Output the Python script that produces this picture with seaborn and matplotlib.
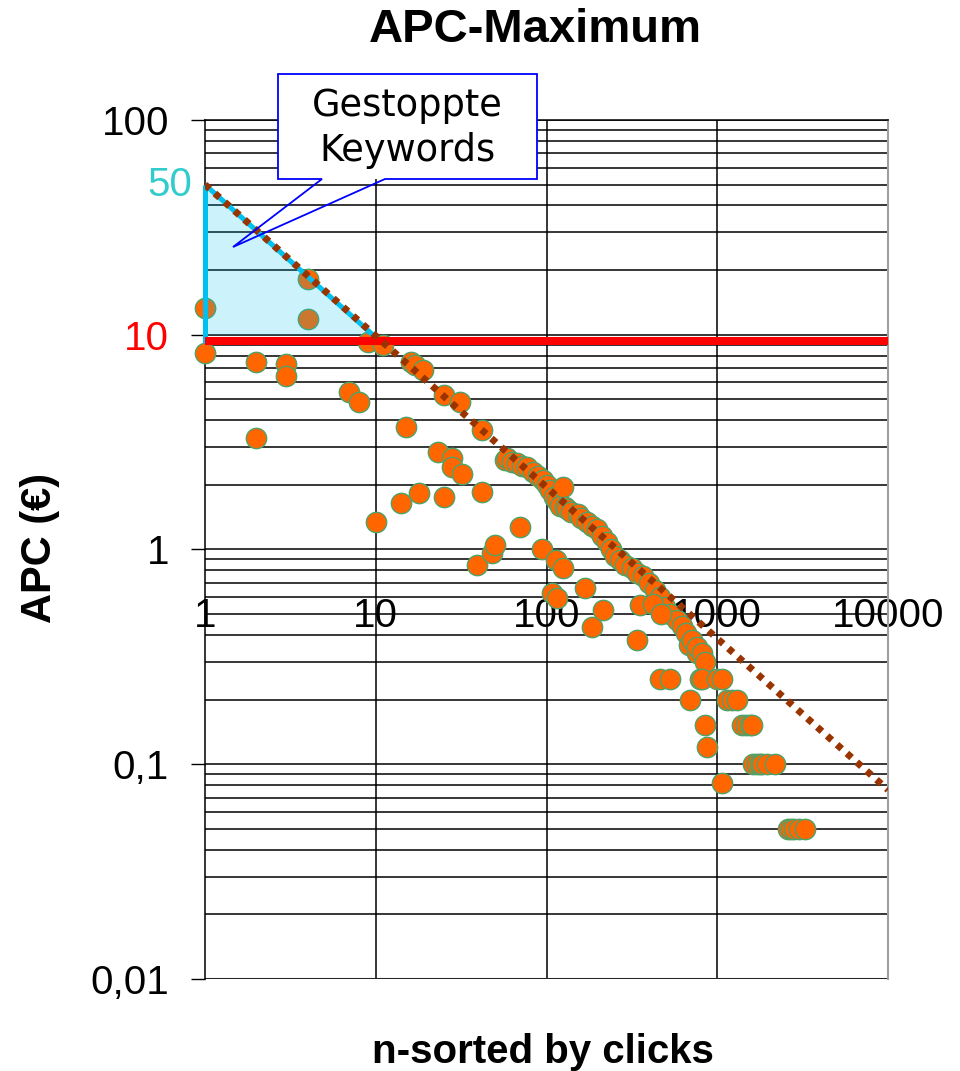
import numpy as np
import pandas as pd
import seaborn as sns
import matplotlib.pyplot as plt
from matplotlib.patches import Polygon, Rectangle
from matplotlib.ticker import FixedLocator, NullFormatter

# rank n (sorted by clicks) and APC in euro
n_rank = [1, 1, 2, 2, 3, 3, 4, 4, 7, 8, 9, 10, 11, 14, 15, 16, 17, 18, 19,
          23, 25, 25, 28, 28, 31, 32, 39, 42, 42, 48, 50,
          57, 59, 63, 67, 72, 77, 83, 89, 95, 100, 105, 110, 115, 120, 125,
          128, 132, 140, 153, 160, 172, 185, 197, 210, 225, 240, 252, 268,
          290, 317, 340, 368, 400, 433, 460, 495, 530, 580, 620, 660, 680,
          710, 760, 765, 810, 850,
          70, 94, 108, 114, 115, 125, 168, 185, 214, 339, 352, 420, 470,
          462, 530, 690, 790, 811, 850, 870, 1000, 1062, 1070, 1140, 1220,
          1300, 1400, 1480, 1550, 1600, 1620, 1700, 1780, 1840, 1950, 2170,
          2600, 2700, 2800, 3000, 3250]
apc = [13.3, 8.2, 7.45, 3.3, 7.3, 6.45, 18.2, 11.8, 5.4, 4.85, 9.25, 1.34,
       8.95, 1.65, 3.7, 7.45, 7.2, 1.83, 6.85,
       2.84, 1.76, 5.24, 2.67, 2.42, 4.87, 2.25, 0.85, 3.6, 1.85, 0.96, 1.05,
       2.6, 2.67, 2.55, 2.52, 2.45, 2.42, 2.3, 2.21, 2.1, 2.0, 1.9, 1.75,
       1.68, 1.6, 1.96, 1.58, 1.54, 1.5, 1.46, 1.4, 1.35, 1.28, 1.24, 1.15,
       1.08, 1.0, 0.93, 0.89, 0.85, 0.82, 0.78, 0.75, 0.7, 0.65, 0.6, 0.54,
       0.5, 0.47, 0.44, 0.41, 0.36, 0.38, 0.33, 0.35, 0.33, 0.30,
       1.27, 1.0, 0.63, 0.89, 0.595, 0.82, 0.66, 0.435, 0.52, 0.38, 0.55,
       0.56, 0.5, 0.25, 0.25, 0.20, 0.25, 0.25, 0.152, 0.12, 0.25, 0.25,
       0.082, 0.20, 0.20, 0.20, 0.152, 0.152, 0.152, 0.152, 0.1, 0.1, 0.1,
       0.1, 0.1, 0.1, 0.05, 0.05, 0.05, 0.05, 0.05]

# power trend (dotted) endpoints
trend_x = [1, 10000]
trend_y = [50, 0.076]

# stopped keyword zone
limit_apc = 9.4
zone_x = [1, 1, 9.6]
zone_y = [50, 10, 10]

x_ticks = [1, 10, 100, 1000, 10000]
x_labels = ['1', '10', '100', '1000', '10000']
y_ticks = [0.01, 0.1, 1, 10, 100]
y_labels = ['0,01', '0,1', '1', '10', '100']

df = pd.DataFrame({'n': n_rank, 'apc': apc})

sns.set_style('white')
plt.rcParams['font.family'] = ['Liberation Sans', 'DejaVu Sans']
plt.rcParams['text.color'] = 'black'
plt.rcParams['xtick.color'] = 'black'
plt.rcParams['ytick.color'] = 'black'

W, H = 960, 1071
fig = plt.figure(figsize=(9.6, 10.71), dpi=100)
ax = fig.add_axes([205 / W, 1 - 979 / H, 683 / W, 859 / H])
ax.set_xscale('log')
ax.set_yscale('log')
ax.set_xlim(1, 10000)
ax.set_ylim(0.01, 100)

# grid
ax.yaxis.set_minor_locator(FixedLocator(
    [m * 10.0 ** e for e in range(-2, 2) for m in range(2, 10)]))
ax.yaxis.set_minor_formatter(NullFormatter())
ax.grid(True, axis='y', which='both', color='black', lw=1.1, zorder=0)
for gx in x_ticks[1:-1]:
    ax.axvline(gx, color='black', lw=1.1, zorder=0)
ax.axhline(0.01, color='#a0a0a0', lw=1.5, zorder=0)
ax.xaxis.grid(False)

sns.scatterplot(data=df, x='n', y='apc', ax=ax, s=215, color='#ff6600',
                edgecolor='#4ea26a', linewidth=1.0, legend=False,
                clip_on=False, zorder=3)

# shaded zone, red limit, trend
ax.fill(zone_x, zone_y, color=(0, 0.745, 0.94), alpha=0.2, lw=0, zorder=4)
ax.plot([zone_x[0], zone_x[2]], [zone_y[0], zone_y[2]], color='#00c0f0',
        lw=3.6, zorder=5, solid_capstyle='butt')
ax.plot([1, 1], [50, 9.2], color='#00c0f0', lw=3.6, zorder=5, clip_on=False,
        solid_capstyle='butt')
ax.axhline(limit_apc, xmin=0, xmax=1, color='#ff0000', lw=5.8, zorder=5)
sns.lineplot(x=trend_x, y=trend_y, ax=ax, color='#993300', lw=5,
             dashes=False, zorder=6)
ax.lines[-1].set_dashes((0.9, 1.0))

# spines / ticks
for side in ['left', 'top']:
    ax.spines[side].set_color('black')
    ax.spines[side].set_linewidth(1.1)
ax.spines['right'].set_color('#a0a0a0')
ax.spines['right'].set_linewidth(1.5)
ax.spines['bottom'].set_position(('data', 1))
ax.spines['bottom'].set_visible(False)

ax.set_xticks(x_ticks)
ax.set_xticklabels(x_labels)
ax.xaxis.set_minor_locator(FixedLocator([]))
ax.tick_params(axis='x', which='both', length=0, pad=34, labelsize=29)
ax.set_yticks(y_ticks)
ax.set_yticklabels(y_labels)
ax.tick_params(axis='y', which='major', left=True, length=10, width=1,
               color='black', pad=16, labelsize=29)
ax.tick_params(axis='y', which='minor', length=0)
ax.get_yticklabels()[3].set_color('#ff0000')
ax.text(-0.018, 50, '50', transform=ax.get_yaxis_transform(), ha='right',
        va='center', fontsize=29, color='#33cccc')
ax.set_xlabel('')
ax.set_ylabel('')

# callout
box = Rectangle((278 / W, 1 - 179 / H), 259 / W, 105 / H,
                transform=fig.transFigure, facecolor='white', lw=0,
                zorder=10)
fig.patches.append(box)
pts = [(278, 74), (537, 74), (537, 179), (385, 179), (233, 247), (322, 179),
       (278, 179)]
outline = Polygon([(px / W, 1 - py / H) for px, py in pts], closed=True,
                  fill=False, edgecolor='#0000ff', lw=1.3,
                  transform=fig.transFigure, zorder=11)
fig.patches.append(outline)
fig.text(407 / W, 1 - 128 / H, 'Gestoppte\nKeywords', ha='center',
         va='center', fontsize=26.5, family='DejaVu Sans', linespacing=1.25,
         color='black', zorder=12)

fig.text(535 / W, 1 - 30 / H, 'APC-Maximum', ha='center', va='center',
         fontsize=34, fontweight='bold')
fig.text(543 / W, 1 - 1052 / H, 'n-sorted by clicks', ha='center',
         va='center', fontsize=29, fontweight='bold')
fig.text(40 / W, 1 - 548 / H, 'APC (€)', ha='center', va='center',
         rotation=90, fontsize=30, fontweight='bold')

fig.savefig('out.png', dpi=100)
